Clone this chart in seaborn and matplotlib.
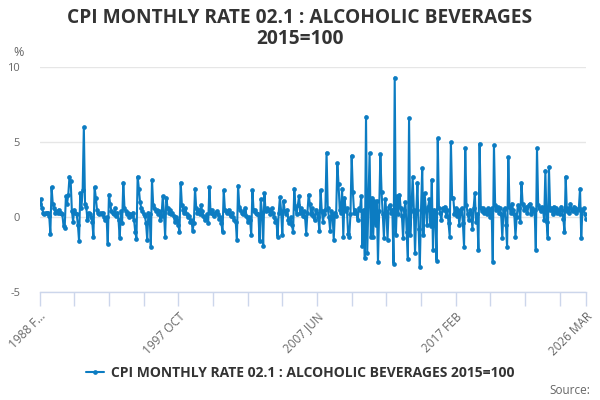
import numpy as np
import pandas as pd
import matplotlib
matplotlib.use("Agg")
import matplotlib.pyplot as plt
import seaborn as sns

# ---- data (monthly % change) ----
rate = [
    0.85, 1.2, 0.6, 0.3, 0.2, 0.3, 0.25, 0.3, 0.1, -1.1, 2.0, 0.9,
    0.6, 0.3, 0.4, 0.3, 0.5, 0.3, 0.3, 0.2, -0.6, -0.7, 1.4, 0.9,
    1.5, 2.7, 2.4, 0.4, -0.3, 0.5, 0.3, 0.2, -0.5, -1.6, 1.6, 0.6,
    1.8, 6.0, 0.9, 0.7, -0.2, 0.3, 0.2, 0.0, -0.3, -1.3, 2.0, 1.3,
    0.5, 0.3, 0.2, 0.3, 0.2, 0.3, 0.0, -0.2, 0.0, -1.8, 1.5, 0.9,
    0.4, 0.3, 0.2, 0.6, 0.1, 0.3, -0.2, -1.4, 0.4, -0.4, 2.3, 0.6,
    0.4, 0.2, 0.3, 0.0, 0.2, 0.1, 0.3, -0.2, -1.0, -1.45, 2.7, 1.9,
    1.0, 0.6, 0.4, 0.2, 0.1, -0.4, -1.5, 0.3, 0.2, -2.0, 2.5, 0.8,
    0.6, 0.4, 0.5, 0.2, 0.4, -0.2, 0.1, 1.4, 0.3, -1.3, 1.3, 0.6,
    0.3, 0.5, 0.2, 0.3, 0.1, -0.3, 0.0, -0.2, -0.5, -1.0, 2.3, 0.8,
    0.5, 0.3, 0.6, 0.2, 0.0, 0.1, -0.3, -0.2, -0.9, -0.4, 1.9, 0.6,
    0.3, 0.5, 0.2, 0.8, 0.4, 0.1, -0.2, 0.0, 0.2, -0.4, 2.0, 0.3,
    0.5, 0.2, 0.1, 0.3, 0.4, 0.2, -0.1, 0.0, -0.4, -1.0, 1.8, 0.5,
    0.4, 0.3, 0.5, 0.2, 0.1, 0.3, 0.0, -0.2, -0.3, -1.5, 2.1, 0.7,
    0.5, 0.3, 0.2, 0.4, 0.6, 0.1, -0.3, 0.0, -0.2, -1.2, 1.8, 0.4,
    0.5, 0.3, 0.2, 0.2, -1.6, 1.2, 0.3, -1.9, 1.6, 0.4, 0.6, 0.5,
    0.5, 0.2, 0.6, 0.3, 0.0, -0.3, -0.2, -1.3, 0.3, 1.35, 0.4, -1.2,
    1.1, 0.4, 0.2, 0.5, -0.2, -0.4, 0.0, -0.5, -1.0, 1.9, 0.6, 0.2,
    0.8, 1.4, 0.3, 0.6, 0.1, 0.4, 0.0, -1.1, 0.3, 1.5, 0.9, 0.2,
    0.6, 0.1, -0.2, 0.5, 0.3, 0.0, -0.9, 1.8, 0.4, -0.3, 0.2, 0.5,
    4.3, 0.6, 0.0, -0.9, 0.4, 0.2, -1.5, 0.3, 0.1, 3.6, 2.2, 0.5,
    0.3, 1.9, -1.3, 1.3, 0.4, 0.6, -1.1, -1.3, 0.2, 4.1, 1.7, 0.3,
    0.5, 0.3, -0.2, 0.6, 0.5, 1.4, -1.9, 0.5, -2.75, 6.7, -2.4, 1.0,
    4.25, -1.3, 1.3, -1.3, 1.1, -0.5, 1.1, -3.0, 0.4, 4.2, 1.7, 0.2,
    -1.4, 1.2, 0.4, -1.5, 0.7, 0.8, 0.3, 0.5, -3.1, 9.3, -1.2, 1.4,
    0.2, 1.5, 0.6, 0.1, -1.4, 0.5, 1.0, -1.0, -2.8, 6.6, -1.2, 0.4,
    2.7, 0.5, -2.4, 0.3, 2.3, -0.8, -3.3, 0.5, 3.25, -1.2, 1.6, 0.5,
    -0.5, 0.7, 1.2, -0.6, 2.5, -2.2, 0.5, 0.3, -2.9, 5.25, 0.6, 0.3,
    -0.2, 0.6, 0.5, 0.7, 0.1, 0.5, -0.4, -1.3, 5.0, 1.3, 1.3, 0.2,
    0.6, 0.1, 0.5, -0.5, 0.3, 0.6, -0.4, -2.0, 4.6, 0.8, 0.2, -0.2,
    0.5, 0.3, -0.8, 0.6, 1.6, -0.3, 0.2, -2.2, 4.9, 0.6, 0.4, 0.6,
    0.3, 0.5, 0.2, 0.6, 0.4, 0.0, 0.6, -3.0, 4.8, 0.8, 0.5, 0.7,
    0.3, 0.6, 0.2, -1.4, 0.5, 0.6, -0.5, -2.0, 4.0, 0.7, 0.3, 0.9,
    0.5, 0.2, -1.3, 0.0, 0.8, 0.6, -0.3, 2.3, 0.9, 0.5, 0.6, 0.7,
    0.3, 0.8, 0.9, 0.2, 0.6, 0.4, 0.5, -2.2, 4.6, 0.8, 0.6, 0.4,
    0.7, 0.5, -0.2, 3.1, -0.3, -1.4, 3.35, 0.5, 0.6, 0.2, 0.7, 0.4,
    0.6, 0.3, 0.5, 0.2, 0.7, 0.5, -0.1, -1.0, 2.7, 0.4, 0.6, 0.3,
    0.9, 0.5, 0.4, 0.7, 0.6, 0.3, 0.5, 0.6, 1.9, -1.4, 0.5, 0.6,
    0.2, -0.1,
]
start_month = "1988-02"
tick_step_months = 29
label_every_ticks = 4
y_ticks = [-5, 0, 5, 10]
series_name = "CPI MONTHLY RATE 02.1 : ALCOHOLIC BEVERAGES 2015=100"
title_text = "CPI MONTHLY RATE 02.1 : ALCOHOLIC BEVERAGES\n2015=100"
unit_text = "%"
source_text = "Source:"

months = pd.period_range(start_month, periods=len(rate), freq="M")
df = pd.DataFrame({"idx": np.arange(len(rate)), "rate": rate})

sns.set_theme(style="white")
plt.rcParams["font.family"] = ["Open Sans", "DejaVu Sans"]

LINE = "#0c7cc2"
TXT = "#333333"
LBL = "#666666"
AXC = "#ccd6eb"

fig = plt.figure(figsize=(6, 4), dpi=100)
ax = fig.add_axes([0.066, 0.27, 0.9107, 0.5625])

sns.lineplot(data=df, x="idx", y="rate", ax=ax, color=LINE, lw=1.5,
             marker="o", markersize=3.4, markeredgewidth=0, label=series_name,
             zorder=3)

last = len(rate) - 1
ax.set_xlim(0, last)
ax.set_ylim(-5, 10)
ax.set_yticks(y_ticks)
ax.set_yticklabels([str(v) for v in y_ticks], color=LBL, fontsize=8)
ax.tick_params(axis="y", length=0, pad=14)
ax.grid(axis="y", color="#e6e6e6", lw=1)
ax.grid(axis="x", visible=False)

xt = list(range(0, last, tick_step_months)) + [last]
labs = []
for k, i in enumerate(xt):
    if i == last or k % label_every_ticks == 0:
        p = months[i]
        labs.append(f"{p.year} {p.strftime('%b').upper()}")
    else:
        labs.append("")
labs[0] = labs[0][:6] + "..."
ax.set_xticks(xt)
ax.set_xticklabels(labs, rotation=45, ha="right", va="top",
                   rotation_mode="anchor", color=LBL, fontsize=8.5)
ax.tick_params(axis="x", bottom=True, direction="out", length=10, width=1,
               color=AXC, pad=3)

for s in ["top", "right", "left"]:
    ax.spines[s].set_visible(False)
ax.spines["bottom"].set_color(AXC)
ax.spines["bottom"].set_linewidth(1)
ax.set_xlabel("")
ax.set_ylabel("")

fig.text(0.5, 0.928, title_text, ha="center", va="center", fontsize=13.8,
         fontweight="bold", color=TXT, linespacing=1.05)
fig.text(0.022, 0.868, unit_text, color=LBL, fontsize=9, ha="left", va="center")
fig.text(0.983, 0.025, source_text, color=LBL, fontsize=8.5, ha="right", va="center")

ax.get_legend().remove()
h, l = ax.get_legend_handles_labels()
leg = fig.legend(h, l, loc="center", bbox_to_anchor=(0.5, 0.067), frameon=False,
                 handlelength=1.3, handletextpad=0.5,
                 prop={"weight": "bold", "size": 10})
for t in leg.get_texts():
    t.set_color(TXT)

fig.savefig("out.png", dpi=100)
